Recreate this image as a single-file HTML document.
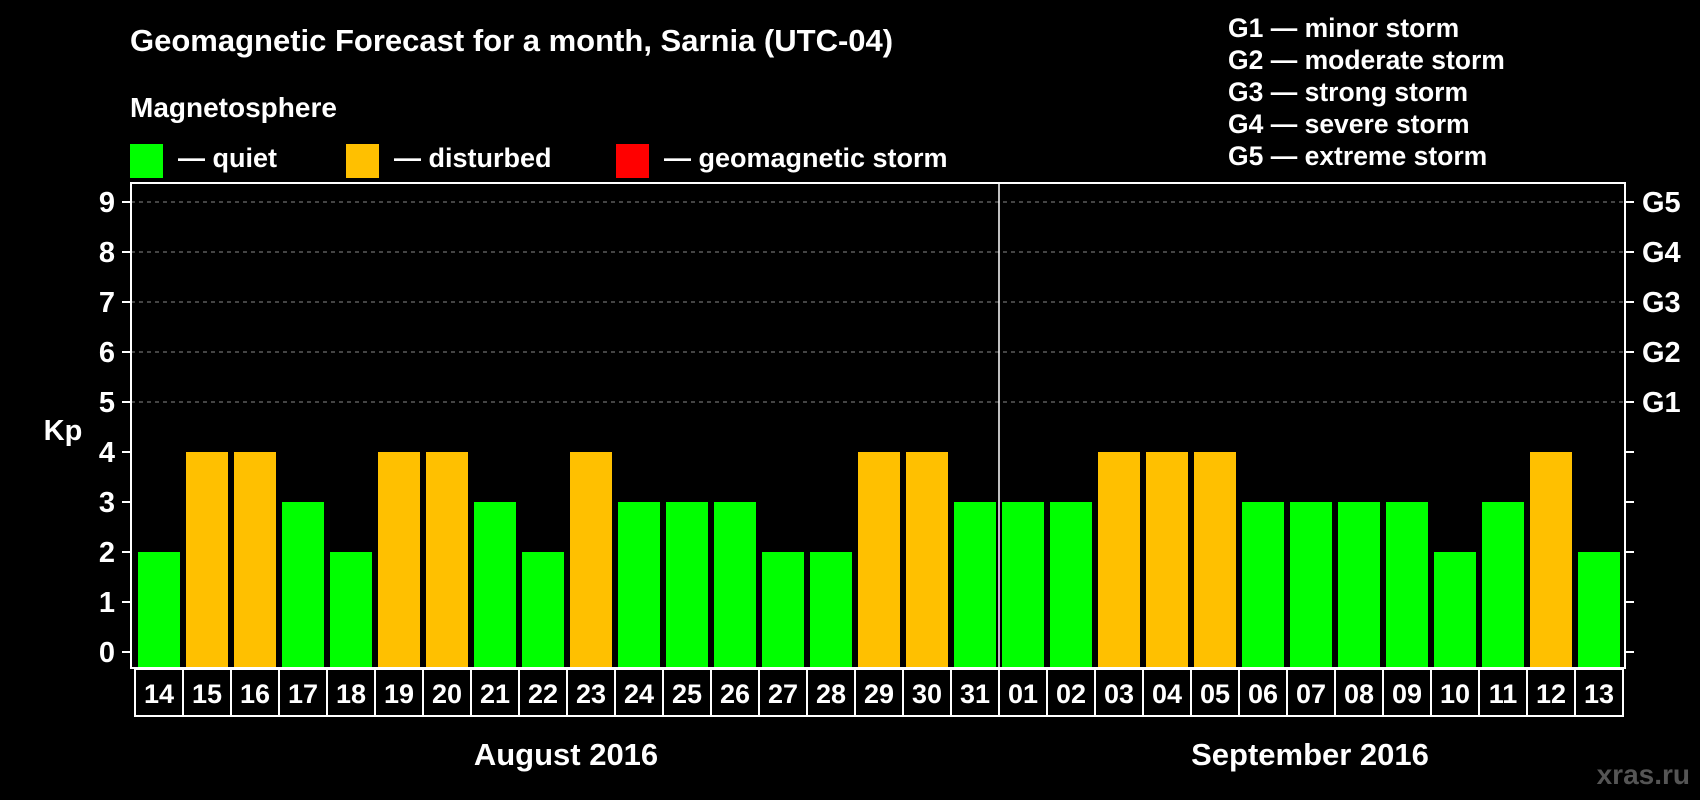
<!DOCTYPE html>
<html><head><meta charset="utf-8"><style>
html,body{margin:0;padding:0;background:#000;}
svg{display:block;font-family:"Liberation Sans",Arial,sans-serif;font-weight:bold;}
</style></head><body>
<svg id="chart" width="1700" height="800" viewBox="0 0 1700 800">
<rect width="1700" height="800" fill="#000"/>
<text x="130" y="51" fill="#fff" font-size="31">Geomagnetic Forecast for a month, Sarnia (UTC-04)</text>
<text x="130" y="117" fill="#fff" font-size="28">Magnetosphere</text>
<g><rect x="130" y="144" width="33" height="34" fill="#00ff00"/><text x="178" y="167" fill="#fff" font-size="27">— quiet</text></g>
<g><rect x="346" y="144" width="33" height="34" fill="#ffc000"/><text x="394" y="167" fill="#fff" font-size="27">— disturbed</text></g>
<g><rect x="616" y="144" width="33" height="34" fill="#ff0000"/><text x="664" y="167" fill="#fff" font-size="27">— geomagnetic storm</text></g>
<g fill="#fff" font-size="26.5">
<text x="1228" y="37">G1 — minor storm</text>
<text x="1228" y="69">G2 — moderate storm</text>
<text x="1228" y="101">G3 — strong storm</text>
<text x="1228" y="133">G4 — severe storm</text>
<text x="1228" y="165">G5 — extreme storm</text>
</g>
<text x="63" y="440" fill="#fff" font-size="29" text-anchor="middle">Kp</text>
<g id="plot"></g>
<text x="566" y="765" fill="#fff" font-size="31" text-anchor="middle">August 2016</text>
<text x="1310" y="765" fill="#fff" font-size="31" text-anchor="middle">September 2016</text>
<text x="1690" y="784" fill="#555" font-size="28" text-anchor="end">xras.ru</text>
</svg>
<script>
const days = ["14","15","16","17","18","19","20","21","22","23","24","25","26","27","28","29","30","31","01","02","03","04","05","06","07","08","09","10","11","12","13"];
const kpValues = [2,4,4,3,2,4,4,3,2,4,3,3,3,2,2,4,4,3,3,3,4,4,4,3,3,3,3,2,3,4,2];
const yTicks = [0,1,2,3,4,5,6,7,8,9];
const gLabels = ["","","","","","G1","G2","G3","G4","G5"];
const NS="http://www.w3.org/2000/svg";
const g=document.getElementById('plot');
const L=131,R=1625,T=183,B=668,x0=135,pitch=48;
const y=v=>652-v*50;
const x=i=>x0+i*pitch;
function mk(t,a){const e=document.createElementNS(NS,t);for(const k in a)e.setAttribute(k,a[k]);g.appendChild(e);return e;}
yTicks.forEach((v,i)=>{
  if(v>=5){const l=mk('line',{x1:L,x2:R,y1:y(v),y2:y(v),stroke:'#888','stroke-width':1,'stroke-dasharray':'4 4'});
  
  }
  mk('line',{x1:L-9,x2:L,y1:y(v),y2:y(v),stroke:'#fff','stroke-width':2});
  mk('line',{x1:R,x2:R+9,y1:y(v),y2:y(v),stroke:'#fff','stroke-width':2});
  const t=mk('text',{x:107,y:y(v)+10,fill:'#fff','font-size':29,'text-anchor':'middle'});t.textContent=v;
  
  
  if(gLabels[i]){const gt=mk('text',{x:1642,y:y(v)+10,fill:'#fff','font-size':29});gt.textContent=gLabels[i];
  
  }
});
kpValues.forEach((v,i)=>{
  const r=mk('rect',{x:x(i)+3,y:y(v),width:42,height:B-1-y(v),fill:v>=5?'#ff0000':(v>=4?'#ffc000':'#00ff00')});
  
  
  const c=mk('rect',{x:x(i),y:669,width:pitch,height:47,fill:'none',stroke:'#fff','stroke-width':2});
  
  
  const t=mk('text',{x:x(i)+24,y:703,fill:'#fff','font-size':27,'text-anchor':'middle'});t.textContent=days[i];
  
  
});
const f=mk('rect',{x:L,y:T,width:R-L,height:B-T,fill:'none',stroke:'#fff','stroke-width':2});


const d=mk('line',{x1:x(18),x2:x(18),y1:T,y2:B,stroke:'#fff','stroke-width':1.5});


</script>
</body></html>
